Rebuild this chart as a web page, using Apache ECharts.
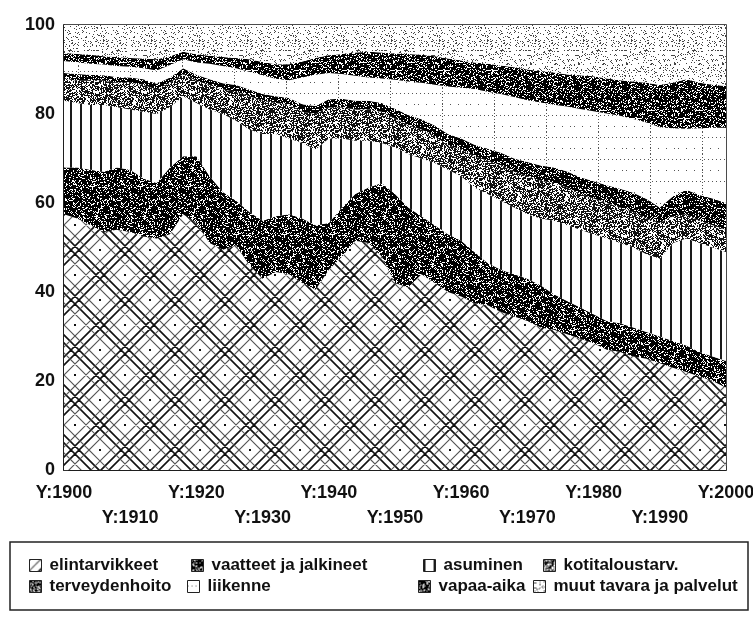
<!DOCTYPE html>
<html>
<head>
<meta charset="utf-8">
<script src="https://cdn.jsdelivr.net/npm/echarts@6/dist/echarts.min.js"></script>
<style>
  html, body { margin: 0; background: #fff; }
  #chart { width: 753px; height: 622px; }
</style>
</head>
<body>
<div id="chart"></div>
<script>
// vuodet (2 vuoden välein)
const years = [1900, 1902, 1904, 1906, 1908, 1910, 1912, 1914, 1916, 1918,
  1920, 1922, 1924, 1926, 1928, 1930, 1932, 1934, 1936, 1938,
  1940, 1942, 1944, 1946, 1948, 1950, 1952, 1954, 1956, 1958,
  1960, 1962, 1964, 1966, 1968, 1970, 1972, 1974, 1976, 1978,
  1980, 1982, 1984, 1986, 1988, 1990, 1992, 1994, 1996, 1998, 2000];

// osuudet kulutusmenoista, % (luettu kuvasta)
const elintarvikkeet = [57.5, 56.5, 55, 53.5, 54, 53.5, 52.5, 52, 53, 57.5,
  55.5, 51, 49.5, 50.5, 46, 43, 44.5, 44, 42, 40.5,
  45, 48, 51.5, 51, 48, 42, 41, 44, 42, 40,
  39, 37.5, 37, 35.5, 34.5, 33.5, 32, 31.5, 30.5, 29.5,
  28.5, 27, 26.5, 25.5, 25, 24, 23, 22, 21, 20, 18.5];
const vaatteet = [10.5, 11.5, 12.5, 13.5, 14, 14, 13, 12.5, 15, 13,
  15, 15, 13, 10, 12, 13, 12.5, 13.5, 14.5, 14.5,
  10.5, 11, 10.5, 12.5, 16.5, 20, 18, 13, 13, 13,
  12.5, 11.5, 9.5, 9.5, 9.5, 9.5, 9.5, 8, 7.5, 7,
  6.5, 6.5, 6.5, 6.5, 6, 6, 6, 6, 5.5, 5.5, 6];
const asuminen = [15, 14.5, 14.5, 15, 13.5, 13.5, 15, 15.5, 13.5, 13.5,
  12, 15, 17.5, 18, 18.5, 19.5, 18.5, 17, 17, 17,
  19, 15.5, 12, 10.5, 9, 10.5, 12, 13, 14, 14.5,
  14.5, 14.5, 15.5, 15.5, 15, 14.5, 15, 16.5, 17, 17.5,
  18, 18.5, 18, 18, 17.5, 17.5, 22, 24, 24.5, 24.5, 24.5];
const kotitalous = [5, 5, 5.5, 5.5, 5.5, 6, 6, 5.5, 5.5, 5,
  5, 5.5, 5.5, 6.5, 7.5, 7.5, 7, 7.5, 7, 8,
  7, 7, 7, 7, 7, 6.5, 6.5, 6.5, 6, 5.5,
  6, 7, 7.5, 8, 8, 8.5, 8.5, 8.5, 8.5, 8,
  8, 8, 8, 8, 8, 8, 6, 5.5, 5, 5, 5];
const terveys = [1.2, 1.5, 1.3, 1.2, 1.3, 1.2, 1.3, 1.3, 1.2, 1.3,
  1.3, 1.3, 1.4, 1.5, 1.5, 1.5, 1.5, 1.6, 1.7, 1.8,
  1.8, 1.9, 2, 2, 2, 2.2, 2.3, 2.3, 2.4, 2.5,
  2.5, 2.6, 2.7, 2.8, 3, 3.2, 3.4, 3.5, 3.6, 3.8,
  3.9, 4, 4.2, 4.3, 4.4, 3.5, 4.5, 5.5, 5.8, 6, 6];
const liikenne = [2.7, 2.6, 2.5, 2.4, 2.5, 2.4, 2.5, 3, 2.8, 2,
  2.8, 3.5, 3.9, 3.8, 4, 4.2, 3.9, 4, 6, 7,
  5.9, 5.6, 5.6, 5.2, 5.5, 6.5, 7.5, 8.2, 9.2, 10.7,
  11.4, 12.5, 12.8, 13.2, 13.8, 13.9, 14.2, 14.1, 14.6, 15.3,
  15.7, 16.1, 16.4, 16.6, 17.2, 18, 15.3, 13.7, 15, 15.9, 16.9];
const vapaaAika = [1.8, 1.9, 2, 1.9, 2, 2, 2.2, 2.5, 2, 1.7,
  1.8, 1.8, 2, 2.3, 2.8, 3, 3.3, 3.6, 3.6, 3.8,
  4, 4.5, 5.2, 5.8, 5.8, 5.9, 6.2, 6.3, 6.4, 6.3,
  6.1, 6, 6.3, 6.4, 6.7, 6.9, 7, 7.2, 7.2, 7.6,
  7.9, 7.9, 8, 8.4, 8.9, 9.5, 10.2, 11.1, 10.2, 9.7, 9.4];
const muut = [6.3, 6.5, 6.7, 7, 7.2, 7.4, 7.5, 7.7, 7, 6,
  6.6, 6.9, 7.2, 7.4, 7.7, 8.3, 8.8, 8.8, 8.2, 7.4,
  6.8, 6.5, 6.2, 6, 6.2, 6.4, 6.5, 6.7, 7, 7.5,
  8, 8.4, 8.7, 9.1, 9.5, 10, 10.4, 10.7, 11.1, 11.3,
  11.5, 12, 12.4, 12.7, 13, 13.5, 13, 12.2, 13, 13.4, 13.7];

const names = ['elintarvikkeet', 'vaatteet ja jalkineet', 'asuminen', 'kotitaloustarv.',
  'terveydenhoito', 'liikenne', 'vapaa-aika', 'muut tavara ja palvelut'];
const values = [elintarvikkeet, vaatteet, asuminen, kotitalous, terveys, liikenne, vapaaAika, muut];

// --- rasterikuviot (painetun kuvan tapaan) ---
function tile(w, h, draw) {
  const c = document.createElement('canvas');
  c.width = w;
  c.height = h;
  const ctx = c.getContext('2d');
  ctx.fillStyle = '#fff';
  ctx.fillRect(0, 0, w, h);
  draw(ctx, w, h);
  return { image: c, repeat: 'repeat' };
}
function hash(x, y, s) {
  const v = Math.sin(x * 12.9898 + y * 78.233 + s * 37.719) * 43758.5453;
  return v - Math.floor(v);
}
function speckle(density, ink, seed) {
  return tile(48, 48, (ctx, w, h) => {
    ctx.fillStyle = ink;
    for (let y = 0; y < h; y++) {
      for (let x = 0; x < w; x++) {
        if (hash(x, y, seed) < density) ctx.fillRect(x, y, 1, 1);
      }
    }
  });
}

const foodFill = tile(50, 50, (ctx) => {
  const lines = (offsets, color, width) => {
    ctx.strokeStyle = color;
    ctx.lineWidth = width;
    ctx.beginPath();
    for (let k = -2; k <= 3; k++) {
      for (const o of offsets) {
        const c = 50 * k + o;
        ctx.moveTo(c + 60, -60); ctx.lineTo(c - 60, 60);
        ctx.moveTo(c - 60, -60); ctx.lineTo(c + 60, 60);
      }
    }
    ctx.stroke();
  };
  lines([21, 29], '#111', 1.6);
  lines([11, 39], '#555', 1.2);
  ctx.fillStyle = '#111';
  [[0, 0], [50, 0], [0, 50], [50, 50], [25, 25]].forEach(([x, y]) => ctx.fillRect(x - 1, y - 1, 2, 2));
});
const housingFill = tile(10, 10, (ctx) => {
  ctx.fillStyle = '#1a1a1a';
  ctx.fillRect(0, 0, 2, 10);
});
const transportFill = tile(52, 22, (ctx) => {
  ctx.fillStyle = '#555';
  for (let x = 0; x < 52; x += 4) {
    ctx.fillRect(x, 5, 1, 1);
    if (x % 8 === 0) ctx.fillRect(x + 2, 16, 1, 1);
  }
  for (let y = 0; y < 22; y += 3) ctx.fillRect(26, y, 1, 1);
});

const fills = [
  foodFill,
  speckle(0.78, '#000', 1),
  housingFill,
  speckle(0.58, '#111', 2),
  speckle(0.76, '#000', 5),
  transportFill,
  speckle(0.77, '#000', 4),
  speckle(0.13, '#444', 3),
];

const font = 'Liberation Sans, Arial, Helvetica, sans-serif';
const legendSpots = [[24, 552], [186, 552], [418, 552], [538, 552],
  [24, 573], [182, 573], [413, 573], [528, 573]];

const chart = echarts.init(document.getElementById('chart'), null, { renderer: 'canvas' });

chart.setOption({
  animation: false,
  backgroundColor: '#fff',
  textStyle: { fontFamily: font },
  grid: {
    left: 64, right: 27, top: 25, bottom: 152,
    show: true, borderColor: '#111', borderWidth: 1.5,
    outerBoundsMode: 'none',
  },
  xAxis: {
    type: 'category',
    data: years,
    boundaryGap: false,
    axisLine: { lineStyle: { color: '#111', width: 1.5 } },
    axisTick: { show: true, inside: true, length: 4, interval: 0, lineStyle: { color: '#333' } },
    axisLabel: {
      interval: 4,
      margin: 11,
      fontSize: 18,
      fontWeight: 'bold',
      color: '#111',
      lineHeight: 25,
      formatter: (v) => (((v - 1900) / 10) % 2 ? '\n' : '') + 'Y:' + v,
    },
  },
  yAxis: {
    type: 'value',
    min: 0,
    max: 100,
    interval: 20,
    axisLine: { show: true, lineStyle: { color: '#111', width: 1.5 } },
    axisTick: { show: true, inside: true, length: 4, lineStyle: { color: '#333' } },
    splitLine: { show: false },
    axisLabel: { fontSize: 18, fontWeight: 'bold', color: '#111', margin: 9 },
  },
  legend: names.map((name, i) => ({
    data: [{ name, itemStyle: { color: fills[i], borderColor: '#222', borderWidth: 1 } }],
    left: legendSpots[i][0],
    top: legendSpots[i][1],
    icon: 'rect',
    itemWidth: 12,
    itemHeight: 12,
    textStyle: { fontSize: 17, fontWeight: 'bold', color: '#111', fontFamily: font, padding: [0, 0, 0, 3] },
  })),
  graphic: [{
    type: 'rect',
    silent: true,
    shape: { x: 10, y: 542, width: 738, height: 68 },
    style: { fill: 'none', stroke: '#222', lineWidth: 1.5 },
  }],
  series: names.map((name, i) => ({
    name,
    type: 'line',
    stack: 'total',
    data: values[i],
    symbol: 'none',
    lineStyle: { width: 0 },
    itemStyle: { color: fills[i] },
    areaStyle: { color: fills[i], opacity: 1 },
    emphasis: { disabled: true },
  })),
});
</script>
</body>
</html>
